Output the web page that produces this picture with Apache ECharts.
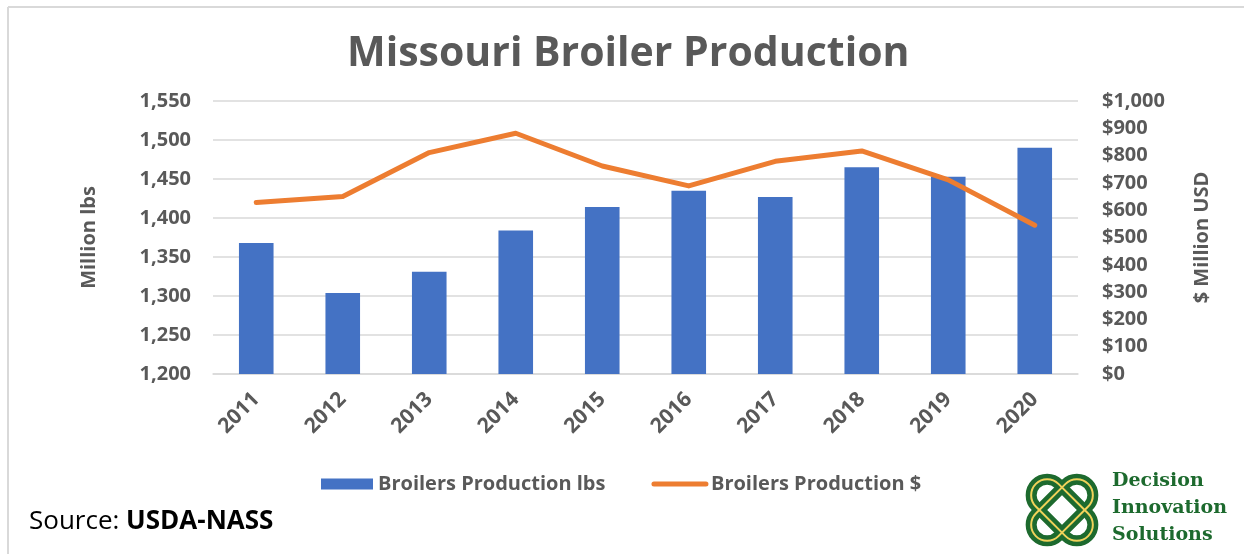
<!DOCTYPE html>
<html lang="en">
<head>
  <meta charset="utf-8">
  <title>Missouri Broiler Production</title>
  <script src="https://cdn.jsdelivr.net/npm/echarts@6/dist/echarts.min.js"></script>
  <style>
    html, body { margin: 0; padding: 0; background: #fff; }
    #chart { width: 1244px; height: 554px; }
  </style>
</head>
<body>
  <div id="chart"></div>
  <script>
    // data
    var years = ['2011', '2012', '2013', '2014', '2015', '2016', '2017', '2018', '2019', '2020'];
    var productionLbs = [1368, 1304, 1331, 1384, 1414, 1435, 1427, 1465, 1453, 1490];   // million lbs
    var productionUsd = [628, 650, 811, 882, 762, 689, 779, 817, 711, 545];            // $ million
    var seriesNames = ['Broilers Production lbs', 'Broilers Production $'];

    var gray = '#595959';
    var font = '"Open Sans", "Noto Sans", sans-serif';

    var chart = echarts.init(document.getElementById('chart'));

    var option = {
      backgroundColor: '#fff',
      animation: false,
      textStyle: { fontFamily: font },
      title: {
        text: 'Missouri Broiler Production',
        left: 342,
        top: 29,
        textStyle: { fontFamily: font, fontSize: 41, fontWeight: 'bold', color: gray }
      },
      legend: {
        left: 316,
        top: 469,
        itemGap: 46,
        itemWidth: 52,
        itemHeight: 11,
        textStyle: { fontFamily: font, fontSize: 20, fontWeight: 'bold', color: gray },
        data: [
          { name: seriesNames[0], icon: 'rect' },
          {
            name: seriesNames[1],
            itemStyle: { opacity: 0 },
            lineStyle: { width: 5, cap: 'round', color: '#ed7d31' }
          }
        ]
      },
      grid: { left: 213, right: 166, top: 101, bottom: 180 },
      xAxis: {
        type: 'category',
        data: years,
        axisLine: { lineStyle: { color: '#d9d9d9', width: 1.5 } },
        axisTick: { show: false },
        axisLabel: {
          rotate: 45,
          margin: 22,
          fontSize: 21,
          fontWeight: 'bold',
          color: gray,
          fontFamily: font
        }
      },
      yAxis: [
        {
          type: 'value',
          min: 1200,
          max: 1550,
          interval: 50,
          name: 'Million lbs',
          nameLocation: 'middle',
          nameGap: 114,
          nameTextStyle: { fontSize: 20, fontWeight: 'bold', color: gray, fontFamily: font },
          axisLine: { show: false },
          axisTick: { show: false },
          splitLine: { lineStyle: { color: '#d9d9d9', width: 1.5 } },
          axisLabel: {
            margin: 22,
            fontSize: 20,
            fontWeight: 'bold',
            color: gray,
            fontFamily: font,
            formatter: function (v) { return v.toLocaleString('en-US'); }
          }
        },
        {
          type: 'value',
          min: 0,
          max: 1000,
          interval: 100,
          name: '$ Million USD',
          nameLocation: 'middle',
          nameGap: 114,
          nameRotate: 90,
          nameTextStyle: { fontSize: 20, fontWeight: 'bold', color: gray, fontFamily: font },
          axisLine: { show: false },
          axisTick: { show: false },
          splitLine: { show: false },
          axisLabel: {
            margin: 24,
            fontSize: 20,
            fontWeight: 'bold',
            color: gray,
            fontFamily: font,
            formatter: function (v) { return '$' + v.toLocaleString('en-US'); }
          }
        }
      ],
      series: [
        {
          name: seriesNames[0],
          type: 'bar',
          yAxisIndex: 0,
          barWidth: '40%',
          itemStyle: { color: '#4472c4' },
          data: productionLbs
        },
        {
          name: seriesNames[1],
          type: 'line',
          yAxisIndex: 1,
          symbol: 'none',
          itemStyle: { color: '#ed7d31' },
          lineStyle: { color: '#ed7d31', width: 5, cap: 'round', join: 'round' },
          data: productionUsd
        }
      ],
      graphic: [
        // frame edges
        { type: 'line', shape: { x1: 8, y1: 7, x2: 1244, y2: 7 }, style: { stroke: '#d9d9d9', lineWidth: 2 } },
        { type: 'line', shape: { x1: 8, y1: 7, x2: 8, y2: 554 }, style: { stroke: '#d9d9d9', lineWidth: 2 } },
        // source note
        {
          type: 'text',
          left: 29,
          top: 509,
          style: {
            text: '{a|Source: }{b|USDA-NASS}',
            rich: {
              a: { fontFamily: font, fontSize: 26, color: '#1a1a1a' },
              b: { fontFamily: font, fontSize: 26, fontWeight: 'bold', color: '#1a1a1a' }
            }
          }
        },
        // logo knot
        {
          type: 'group',
          x: 1062,
          y: 510,
          children: [
            { type: 'rect', rotation: Math.PI / 4, shape: { x: -37, y: -16, width: 74, height: 32, r: 16 }, style: { fill: null, stroke: '#1d6a2e', lineWidth: 11 } },
            { type: 'rect', rotation: -Math.PI / 4, shape: { x: -37, y: -16, width: 74, height: 32, r: 16 }, style: { fill: null, stroke: '#1d6a2e', lineWidth: 11 } },
            { type: 'rect', rotation: Math.PI / 4, shape: { x: -37, y: -16, width: 74, height: 32, r: 16 }, style: { fill: null, stroke: '#f0d25a', lineWidth: 2 } },
            { type: 'rect', rotation: -Math.PI / 4, shape: { x: -37, y: -16, width: 74, height: 32, r: 16 }, style: { fill: null, stroke: '#f0d25a', lineWidth: 2 } }
          ]
        },
        {
          type: 'text',
          left: 1112,
          top: 468,
          style: {
            text: 'Decision\nInnovation\nSolutions',
            fontFamily: '"DejaVu Serif", "Liberation Serif", serif',
            fontWeight: 'bold',
            fontSize: 19,
            lineHeight: 27,
            fill: '#1d6a2e'
          }
        }
      ]
    };

    chart.setOption(option);
  </script>
</body>
</html>
